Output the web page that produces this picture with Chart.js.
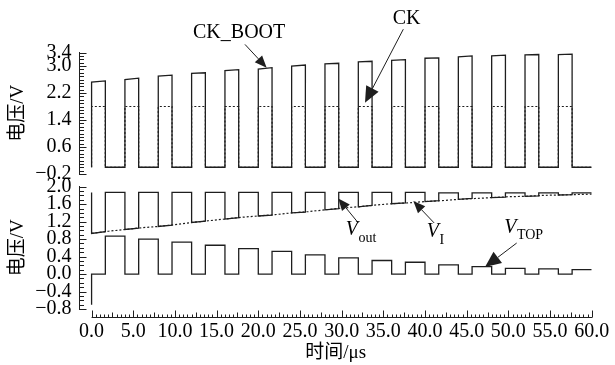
<!DOCTYPE html>
<html>
<head>
<meta charset="utf-8">
<script src="https://cdn.jsdelivr.net/npm/chart.js@4.4.1/dist/chart.umd.min.js"></script>
<style>
  html, body { margin: 0; padding: 0; background: #fff; }
  #wrap { width: 615px; height: 365px; }
</style>
</head>
<body>
<div id="wrap"><canvas id="c" width="615" height="365"></canvas></div>
<script>
// ---- clock timing (µs) ----
const pulseStart = [0, 4, 8, 12, 16, 20, 24, 28, 32, 36, 40, 44, 48, 52, 56];
const pulseEnd   = [1.65, 5.65, 9.65, 13.65, 17.65, 21.65, 25.65, 29.65, 33.65, 37.65, 41.65, 45.65, 49.65, 53.65, 57.65];
const timeEnd = 60;

// ---- CK_BOOT: level at the start / end of each high phase (V) ----
const bootHighStart = [2.52, 2.60, 2.70, 2.78, 2.86, 2.91, 3.00, 3.06, 3.12, 3.17, 3.23, 3.27, 3.30, 3.33, 3.34];
const bootHighEnd   = [2.56, 2.64, 2.73, 2.80, 2.89, 2.95, 3.03, 3.08, 3.14, 3.19, 3.24, 3.30, 3.32, 3.34, 3.35];
const bootLow = 0;

// ---- CK ----
const ckHigh = 1.8;
const ckLow = 0;

// ---- Vout ----
const voutInitial = 1.87;
const voutHigh     = [1.87, 1.87, 1.87, 1.87, 1.87, 1.87, 1.87, 1.87, 1.87, 1.87, 1.86, 1.86, 1.86, 1.86, 1.86];
const voutLowStart = [0.93, 1.02, 1.09, 1.18, 1.26, 1.33, 1.40, 1.47, 1.54, 1.61, 1.66, 1.71, 1.75, 1.78, 1.81];
const voutLowEnd   = [0.97, 1.05, 1.12, 1.21, 1.29, 1.35, 1.42, 1.50, 1.57, 1.63, 1.68, 1.73, 1.76, 1.79, 1.82];

// ---- V_I ----
const v1Time  = [0, 2, 4, 6, 8, 10, 12, 14, 16, 18, 20, 22, 24, 26, 28, 30, 32, 34, 36, 38, 40, 42, 44, 46, 48, 50, 52, 54, 56, 58, 60];
const v1Value = [0.93, 0.98, 1.02, 1.06, 1.09, 1.13, 1.18, 1.22, 1.26, 1.30, 1.33, 1.36, 1.40, 1.43, 1.47, 1.51,
                 1.54, 1.58, 1.61, 1.63, 1.66, 1.68, 1.71, 1.73, 1.75, 1.77, 1.78, 1.80, 1.81, 1.82, 1.83];

// ---- V_TOP ----
const vtopDip  = -0.7;
const vtopHigh = [0.87, 0.80, 0.73, 0.66, 0.58, 0.52, 0.44, 0.37, 0.31, 0.27, 0.21, 0.17, 0.13, 0.12, 0.10];
const vtopLow  = [0, 0, 0, 0, 0, 0, 0, 0, 0, 0, 0, 0, 0, 0, 0];

// ---- axis ticks ----
const topTicks    = [-0.2, 0.6, 1.4, 2.2, 3.0, 3.4];
const bottomTicks = [-0.8, -0.4, 0.0, 0.4, 0.8, 1.2, 1.6, 2.0];
const timeTicks   = [0, 5, 10, 15, 20, 25, 30, 35, 40, 45, 50, 55, 60];

// ---- waveform builders ----
function bootWave() {
  const pts = [];
  pulseStart.forEach((s, k) => {
    const e = pulseEnd[k];
    pts.push({x: s, y: bootLow}, {x: s, y: bootHighStart[k]}, {x: e, y: bootHighEnd[k]}, {x: e, y: bootLow});
  });
  pts.push({x: timeEnd, y: bootLow});
  return pts;
}
function ckWave() {
  const pts = [];
  pulseStart.forEach((s, k) => {
    const e = pulseEnd[k];
    pts.push({x: s, y: ckLow}, {x: s, y: ckHigh}, {x: e, y: ckHigh}, {x: e, y: ckLow});
  });
  pts.push({x: timeEnd, y: ckLow});
  return pts;
}
function voutWave() {
  const pts = [{x: pulseStart[0], y: voutInitial}];
  pulseStart.forEach((s, k) => {
    const e = pulseEnd[k];
    const next = k + 1 < pulseStart.length ? pulseStart[k + 1] : timeEnd;
    pts.push({x: s, y: voutLowStart[k]}, {x: e, y: voutLowEnd[k]}, {x: e, y: voutHigh[k]}, {x: next, y: voutHigh[k]});
    if (k + 1 < pulseStart.length) pts.push({x: next, y: voutHigh[k]});
  });
  return pts;
}
function v1Curve() {
  return v1Time.map((t, i) => ({x: t, y: v1Value[i]}));
}
function vtopWave() {
  const pts = [{x: pulseStart[0], y: vtopDip}];
  pulseStart.forEach((s, k) => {
    const e = pulseEnd[k];
    const next = k + 1 < pulseStart.length ? pulseStart[k + 1] : timeEnd;
    pts.push({x: s, y: vtopLow[k]}, {x: e, y: vtopLow[k]}, {x: e, y: vtopHigh[k]}, {x: next, y: vtopHigh[k]});
  });
  return pts;
}

const INK = '#1e1e1e';
const SERIF = "'Liberation Serif', 'Noto Sans CJK SC', serif";

function lineSet(label, data, axis, dash, width) {
  return {
    label, data, yAxisID: axis,
    borderColor: INK, borderWidth: width || 1.3, borderDash: dash || [],
    pointRadius: 0, tension: 0, fill: false, borderJoinStyle: 'miter'
  };
}

// ---- labels and arrows, placed in data units ----
const notes = [
  {axis: 'yTop', t: 17.7, v: 3.99, text: 'CK_BOOT', align: 'center'},
  {axis: 'yTop', t: 37.8, v: 4.41, text: 'CK', align: 'center'},
  {axis: 'yBot', t: 30.5, v: 1.01, text: 'V', sub: 'out', italic: true, subDy: 8},
  {axis: 'yBot', t: 40.2, v: 0.96, text: 'V', sub: 'I', italic: true, subDy: 8},
  {axis: 'yBot', t: 49.5, v: 1.05, text: 'V', sub: 'TOP', italic: true, subDy: 7}
];
const arrows = [
  {axis: 'yTop', from: [18.4, 3.64], to: [21.0, 2.95], len: 12, half: 5},
  {axis: 'yTop', from: [37.4, 4.09], to: [32.8, 1.91], len: 16, half: 7},
  {axis: 'yBot', from: [32.0, 1.17], to: [29.6, 1.73], len: 12, half: 5},
  {axis: 'yBot', from: [41.1, 1.17], to: [38.6, 1.67], len: 12, half: 5},
  {axis: 'yBot', from: [51.0, 0.71], to: [47.2, 0.16], len: 16, half: 7}
];

const decor = {
  id: 'decor',
  afterDraw(chart) {
    const ctx = chart.ctx;
    const xs = chart.scales.x;
    ctx.save();
    ctx.strokeStyle = INK;
    ctx.fillStyle = INK;
    ctx.lineWidth = 1;

    // inward tick marks on the two voltage axes
    [[chart.scales.yTop, topTicks], [chart.scales.yBot, bottomTicks]].forEach(([s, majors]) => {
      const n = Math.round((s.max - s.min) / 0.1);
      for (let i = 0; i <= n; i++) {
        const v = s.min + i * 0.1;
        const major = majors.some(m => Math.abs(m - v) < 1e-6);
        const p = Math.round(s.getPixelForValue(v)) + 0.5;
        ctx.beginPath();
        ctx.moveTo(s.right, p);
        ctx.lineTo(s.right + (major ? 7 : 4.5), p);
        ctx.stroke();
      }
    });

    // time axis line with upward ticks
    const y0 = Math.round(xs.top) + 0.5;
    const t0 = timeTicks[0], t1 = timeTicks[timeTicks.length - 1];
    ctx.beginPath();
    ctx.moveTo(xs.getPixelForValue(t0), y0);
    ctx.lineTo(xs.getPixelForValue(t1) + 0.5, y0);
    ctx.stroke();
    const nT = Math.round((t1 - t0) / 0.5);
    for (let i = 0; i <= nT; i++) {
      const t = t0 + i * 0.5;
      const len = (Math.abs(t % 5) < 1e-6) ? 7 : (Math.abs(t % 2.5) < 1e-6 ? 5 : 3);
      const p = Math.round(xs.getPixelForValue(t)) + 0.5;
      ctx.beginPath();
      ctx.moveTo(p, y0);
      ctx.lineTo(p, y0 - len);
      ctx.stroke();
    }

    // arrows
    arrows.forEach(a => {
      const ys = chart.scales[a.axis];
      const x1 = xs.getPixelForValue(a.from[0]), y1 = ys.getPixelForValue(a.from[1]);
      const x2 = xs.getPixelForValue(a.to[0]), y2 = ys.getPixelForValue(a.to[1]);
      const ang = Math.atan2(y2 - y1, x2 - x1);
      const bx = x2 - a.len * Math.cos(ang), by = y2 - a.len * Math.sin(ang);
      ctx.beginPath();
      ctx.moveTo(x1, y1);
      ctx.lineTo(bx, by);
      ctx.stroke();
      ctx.beginPath();
      ctx.moveTo(x2, y2);
      ctx.lineTo(bx + a.half * Math.sin(ang), by - a.half * Math.cos(ang));
      ctx.lineTo(bx - a.half * Math.sin(ang), by + a.half * Math.cos(ang));
      ctx.closePath();
      ctx.fill();
    });

    // series names
    ctx.fillStyle = '#000';
    ctx.textBaseline = 'middle';
    notes.forEach(n => {
      const ys = chart.scales[n.axis];
      const px = xs.getPixelForValue(n.t), py = ys.getPixelForValue(n.v);
      ctx.font = (n.italic ? 'italic ' : '') + '20px ' + SERIF;
      ctx.textAlign = n.align || 'left';
      ctx.fillText(n.text, px, py);
      if (n.sub) {
        const w = ctx.measureText(n.text).width;
        ctx.font = '14px ' + SERIF;
        ctx.textAlign = 'left';
        ctx.fillText(n.sub, px + w + 0.5, py + n.subDy);
      }
    });
    ctx.restore();
  }
};

const tickFont = {family: SERIF, size: 20};
const fmt = v => (v < 0 ? '\u2212' : '') + Math.abs(v).toFixed(1);

function voltAxis(min, max, ticks, weight, stackWeight) {
  return {
    type: 'linear', position: 'left', stack: 'volt', stackWeight, weight,
    min, max,
    afterBuildTicks: s => { s.ticks = ticks.map(v => ({value: v})); },
    afterFit: s => { s.width = 79.5; },
    grid: {display: true, drawOnChartArea: false, drawTicks: false},
    border: {display: true, color: INK, width: 1},
    ticks: {font: tickFont, color: '#000', padding: 8, autoSkip: false, callback: fmt},
    title: {display: true, text: '电压/V', color: '#000', font: {family: SERIF, size: 19}, padding: {top: 7, bottom: 0}}
  };
}
function spacer(weight, stackWeight) {
  return {
    type: 'linear', position: 'left', stack: 'volt', stackWeight, weight,
    display: true,
    grid: {display: false, drawTicks: false},
    border: {display: false},
    ticks: {display: false},
    afterFit: s => { s.width = 0; }
  };
}

new Chart(document.getElementById('c'), {
  type: 'line',
  data: {
    datasets: [
      lineSet('CK_BOOT', bootWave(), 'yTop'),
      lineSet('CK', ckWave(), 'yTop', [2, 2], 1.2),
      lineSet('Vout', voutWave(), 'yBot'),
      lineSet('VI', v1Curve(), 'yBot', [2, 2], 1.2),
      lineSet('VTOP', vtopWave(), 'yBot')
    ]
  },
  options: {
    responsive: false,
    animation: false,
    devicePixelRatio: 1,
    layout: {padding: {top: 52.5, left: 0, right: 23.3, bottom: 0}},
    plugins: {legend: {display: false}, tooltip: {enabled: false}},
    scales: {
      x: {
        type: 'linear', min: -1.45, max: 60,
        afterBuildTicks: s => { s.ticks = timeTicks.map(v => ({value: v})); },
        afterFit: s => { s.height = 48; },
        grid: {display: false, drawTicks: false},
        border: {display: false},
        ticks: {font: tickFont, color: '#000', padding: 3, autoSkip: false, maxRotation: 0, minRotation: 0,
                callback: v => Number(v).toFixed(1)},
        title: {display: true, text: '时间/μs', color: '#000', font: {family: SERIF, size: 19}, padding: {top: 0, bottom: 1}}
      },
      yTop: voltAxis(-0.2, 3.4, topTicks, 4, 121.5),
      gapMid: spacer(3, 12.7),
      yBot: voltAxis(-0.8, 2.0, bottomTicks, 2, 122.3),
      gapLow: spacer(1, 8)
    }
  },
  plugins: [decor]
});
</script>
</body>
</html>
